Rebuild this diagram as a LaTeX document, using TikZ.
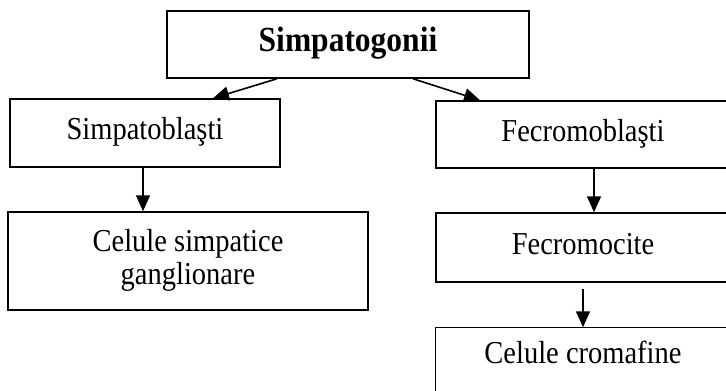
\documentclass[tikz,border=0pt]{standalone}
\usepackage{fontspec}
\setmainfont{Liberation Serif}
\usetikzlibrary{arrows.meta,calc}
\newcommand{\vtxt}[1]{\scalebox{1}[1.12]{\begin{tabular}{@{}c@{}}#1\end{tabular}}}
\begin{document}
\begin{tikzpicture}[x=1pt,y=-1pt,
  box/.style={draw=black,line width=1.5pt,rectangle,inner sep=0pt,align=center,
    font=\fontsize{28.5}{31}\selectfont},
  arr/.style={draw=black,line width=1.6pt,-{Triangle[length=16pt,width=14pt]}}]
\useasboundingbox (0,0) rectangle (726,391);
\clip (0,0) rectangle (726,391);
\fill[white] (0,0) rectangle (726,391);
\node[box,minimum width=362pt,minimum height=67pt,font=\fontsize{31.5}{33}\selectfont\bfseries] (top) at (348,44.5) {\vtxt{Simpatogonii}};
\node[box,minimum width=270pt,minimum height=68pt] (sb) at (145,133) {\vtxt{Simpatoblaşti}};
\node[box,minimum width=294pt,minimum height=67pt] (fb) at (583,134.5) {\vtxt{Fecromoblaşti}};
\node[box,minimum width=360pt,minimum height=98pt] (cs) at (188,261) {\vtxt{Celule simpatice\\[-2pt]ganglionare}};
\node[box,minimum width=294pt,minimum height=69pt] (fc) at (583,247.5) {\vtxt{Fecromocite}};
\node[box,draw=none,minimum width=294pt,minimum height=58pt] (cc) at (583,357) {\vtxt{Celule cromafine}};
\draw[line width=1.5pt] ([yshift=-60pt]cc.south west) -- (cc.north west) -- (cc.north east) -- ([yshift=-60pt]cc.south east);
\draw[arr] ([xshift=-71pt]top.south) -- ([xshift=68pt]sb.north);
\draw[arr] ([xshift=65pt]top.south) -- ([xshift=-103pt]fb.north);
\draw[arr] ([xshift=-2pt]sb.south) -- ([xshift=-2pt]sb.south |- cs.north);
\draw[arr] ([xshift=11pt]fb.south) -- ([xshift=11pt]fb.south |- fc.north);
\draw[arr] ([yshift=-6pt]fc.south) -- (cc.north);
\end{tikzpicture}
\end{document}
